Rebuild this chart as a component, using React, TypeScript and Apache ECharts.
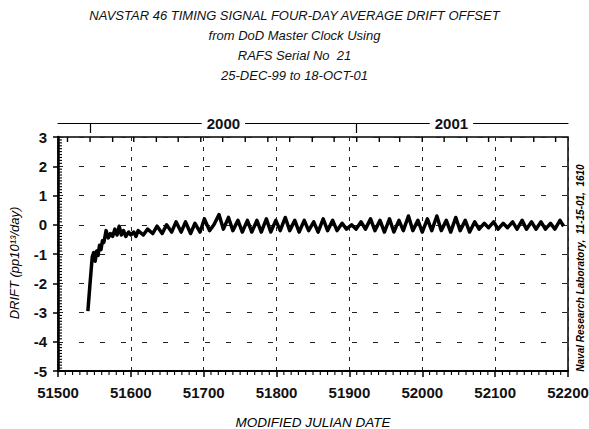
import React, { useEffect, useRef } from 'react';
import * as echarts from 'echarts';

const titleLines = [
  'NAVSTAR 46 TIMING SIGNAL FOUR-DAY AVERAGE DRIFT OFFSET',
  'from DoD Master Clock Using',
  'RAFS Serial No  21',
  '25-DEC-99 to 18-OCT-01',
];
const sideNote = 'Naval Research Laboratory,  11-15-01,  1610';
const xTitle = 'MODIFIED JULIAN DATE';
const yTitle = 'DRIFT (pp10\u00B9\u00B3/day)';

const monthStarts = [51513, 51544, 51575, 51604, 51635, 51665, 51696, 51726, 51757, 51788, 51818, 51849, 51879,
  51910, 51941, 51969, 52000, 52030, 52061, 52091, 52122, 52153, 52183];
const yearStarts = [51544, 51910];
const yearLabelPos = [51727, 52040];
const yearNames = ['2000', '2001'];

const mjd = [
  51541, 51544, 51547, 51549, 51551, 51553, 51555, 51557, 51559, 51561, 51563, 51566, 51569, 51572, 51575,
  51578, 51581, 51584, 51587, 51590, 51593, 51597, 51600, 51604, 51607,
  51610, 51617, 51623, 51630, 51636, 51643, 51649, 51656, 51662, 51669, 51675, 51682, 51688, 51695, 51701,
  51708, 51714, 51721, 51727, 51734, 51740, 51747, 51753, 51760, 51766, 51773, 51779, 51786, 51792, 51799,
  51805, 51812, 51818, 51825, 51831, 51838, 51844, 51851, 51857, 51864, 51870, 51877, 51883, 51890, 51896,
  51903, 51909, 51916, 51922, 51929, 51935, 51942, 51948, 51955, 51961, 51968, 51974, 51981, 51987, 51994,
  52000, 52007, 52013, 52020, 52026, 52033, 52039, 52046, 52052, 52059, 52065, 52072, 52078, 52085, 52091,
  52098, 52104, 52111, 52117, 52124, 52130, 52137, 52143, 52150, 52156, 52163, 52169, 52176, 52182, 52189, 52194,
];
const drift = [
  -2.95, -2.0, -1.1, -0.95, -1.25, -0.9, -1.05, -0.7, -0.85, -0.55, -0.6, -0.2, -0.45, -0.3, -0.4,
  -0.15, -0.35, -0.05, -0.35, -0.2, -0.4, -0.25, -0.35, -0.25, -0.4,
  -0.2, -0.35, -0.15, -0.3, -0.05, -0.3, 0.0, -0.25, 0.1, -0.25, 0.1, -0.3, 0.05, -0.25, 0.2,
  -0.2, 0.0, 0.35, -0.15, 0.25, -0.2, 0.15, -0.25, 0.15, -0.25, 0.15, -0.25, 0.2, -0.25, 0.15,
  -0.2, 0.25, -0.2, 0.15, -0.25, 0.15, -0.2, 0.1, -0.25, 0.2, -0.2, 0.15, -0.2, 0.05, -0.15,
  0.0, -0.15, 0.1, -0.15, 0.2, -0.2, 0.15, -0.25, 0.2, -0.25, 0.15, -0.2, 0.3, -0.2, 0.15,
  -0.25, 0.2, -0.2, 0.3, -0.2, 0.15, -0.25, 0.25, -0.2, 0.15, -0.25, 0.1, -0.15, 0.05, -0.1,
  0.1, -0.15, 0.05, -0.1, 0.1, -0.15, 0.15, -0.15, 0.1, -0.15, 0.1, -0.15, 0.05, -0.15, 0.15, -0.05,
];

// axis decoration tick positions (10-day minor ticks on MJD axis, 0.1 minor ticks on drift axis)
const X_MIN = 51500, X_MAX = 52200, Y_MIN = -5, Y_MAX = 3;
const minorX: number[] = [];
for (let v = X_MIN + 10; v < X_MAX; v += 10) if (v % 100 !== 0) minorX.push(v);
const minorY: number[] = [];
for (let i = Y_MIN * 10 + 1; i < Y_MAX * 10; i++) if (i % 10 !== 0) minorY.push(i / 10);

export default function App() {
  const ref = useRef<HTMLDivElement>(null);
  useEffect(() => {
    const chart = echarts.init(ref.current!, null, { renderer: 'svg' });
    const sans = "'Liberation Sans', Arial, sans-serif";
    const black = '#000';
    const tickFont = { fontSize: 15, fontWeight: 'bold' as const, fontFamily: sans, color: '#111' };
    const tickData = [
      ...minorX.map((v) => [0, v]),
      ...monthStarts.map((v) => [1, v]),
      ...minorY.map((v) => [2, v]),
    ];
    chart.setOption({
      animation: false,
      backgroundColor: '#fff',
      title: {
        text: titleLines.join('\n'),
        left: 'center',
        top: 0,
        textStyle: { fontFamily: sans, fontStyle: 'italic', fontWeight: 'normal', fontSize: 13, lineHeight: 20, color: '#111' },
      },
      grid: {
        left: 58, right: 21, top: 137, bottom: 58, show: true, borderColor: black, borderWidth: 1.5,
        backgroundColor: 'transparent', containLabel: false, outerBoundsMode: 'none',
      },
      xAxis: [
        {
          type: 'value', min: X_MIN, max: X_MAX, interval: 100, position: 'bottom',
          axisLine: { show: true, onZero: false, lineStyle: { color: black, width: 2 } },
          axisTick: { show: true, length: 6, lineStyle: { color: black, width: 1.5 } },
          axisLabel: { margin: 14, formatter: (v: number) => String(v), ...tickFont },
          splitLine: { show: true, lineStyle: { type: [4, 6], color: '#222', width: 1 } },
          name: xTitle, nameLocation: 'middle', nameGap: 44,
          nameTextStyle: { fontFamily: sans, fontStyle: 'italic', fontSize: 13.5, color: black },
        },
        {
          type: 'value', min: X_MIN, max: X_MAX, position: 'top', offset: 14,
          axisLine: { show: true, onZero: false, lineStyle: { color: black, width: 1.2 } },
          axisTick: { show: true, inside: true, length: 10, customValues: yearStarts, lineStyle: { color: black, width: 1.2 } },
          axisLabel: {
            show: true, customValues: yearLabelPos, margin: 0, verticalAlign: 'middle',
            formatter: (v: number) => yearNames[yearLabelPos.indexOf(v)] ?? '',
            backgroundColor: '#fff', padding: [0, 5], ...tickFont,
          },
          splitLine: { show: false },
        },
      ],
      yAxis: [
        {
          type: 'value', min: Y_MIN, max: Y_MAX, interval: 1, position: 'left',
          axisLine: { show: true, onZero: false, lineStyle: { color: black, width: 2.5 } },
          axisTick: { show: true, length: 5, lineStyle: { color: black, width: 1.5 } },
          axisLabel: { margin: 11, ...tickFont },
          splitLine: { show: true, lineStyle: { type: [5, 16], color: '#222', width: 1 } },
        },
      ],
      graphic: [
        {
          type: 'text', x: 14, y: 263, rotation: Math.PI / 2,
          style: { text: yTitle, fontFamily: sans, fontStyle: 'italic', fontSize: 13, fill: black, align: 'center', verticalAlign: 'middle' },
        },
        {
          type: 'text', x: 580, y: 268, rotation: Math.PI / 2,
          style: { text: sideNote, fontFamily: sans, fontStyle: 'italic', fontWeight: 'bold', fontSize: 10, fill: black, align: 'center', verticalAlign: 'middle' },
        },
      ],
      series: [
        {
          type: 'custom', xAxisIndex: 0, yAxisIndex: 0, clip: false, silent: true, z: 4,
          data: tickData,
          renderItem: (_p: any, api: any) => {
            const kind = api.value(0);
            const v = api.value(1);
            const st = { stroke: black, lineWidth: 1.1 };
            if (kind === 0) {
              const p = api.coord([v, Y_MIN]);
              return { type: 'line', shape: { x1: p[0], y1: p[1], x2: p[0], y2: p[1] + 4 }, style: st };
            }
            if (kind === 1) {
              const p = api.coord([v, Y_MAX]);
              return { type: 'line', shape: { x1: p[0], y1: p[1], x2: p[0], y2: p[1] + 5 }, style: { stroke: black, lineWidth: 1.4 } };
            }
            const p = api.coord([X_MIN, v]);
            return { type: 'line', shape: { x1: p[0], y1: p[1], x2: p[0] + 4, y2: p[1] }, style: st };
          },
        },
        {
          type: 'line', xAxisIndex: 0, yAxisIndex: 0, showSymbol: false, z: 5,
          data: mjd.map((d, i) => [d, drift[i]]),
          lineStyle: { color: black, width: 3.5, join: 'round' },
        },
      ],
    });
    return () => chart.dispose();
  }, []);
  return <div ref={ref} style={{ position: 'fixed', left: 0, top: 0, width: 589, height: 429, background: '#fff' }} />;
}
